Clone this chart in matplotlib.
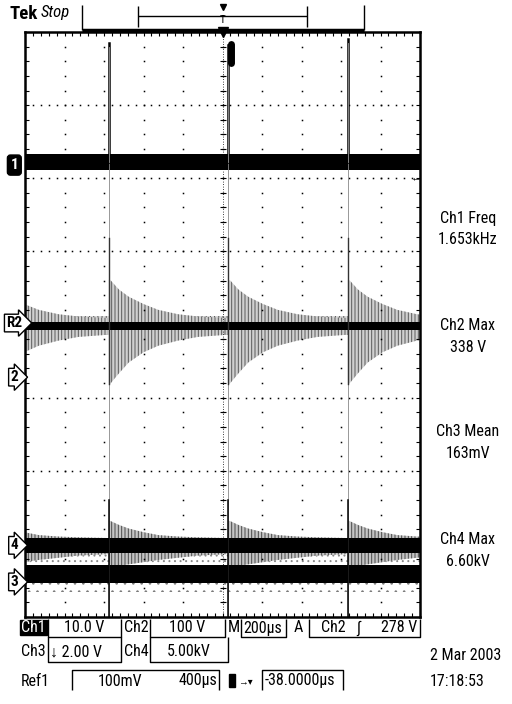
import numpy as np
import matplotlib.pyplot as plt

plt.rcParams['font.family'] = ['Roboto Condensed', 'Liberation Sans Narrow', 'Liberation Sans', 'DejaVu Sans']
plt.rcParams['hatch.linewidth'] = 0.7

# --- screen data: 10 div x 200us horizontally, 8 div vertically ---
time_span_us = 2000
pulse_us = [425, 1030, 1635]
prev_pulse_us = -180          # pulse just before the screen, its ringing tail shows at left
trig_pos_us = 1000
trig_level_div = 6.02

ch1_level = 6.22
ch1_half = 0.11
ch1_spike_top = [7.85, 7.82, 7.9]

ch2_level = 3.98
ch2_core = 0.06
ch2_noise = 0.13
ring_t_us = [0, 10, 50, 100, 175, 250, 350, 450, 600]
ch2_ring_hi = [0.63, 0.62, 0.5, 0.4, 0.3, 0.22, 0.16, 0.13, 0.11]
ch2_ring_lo = [0.81, 0.78, 0.65, 0.5, 0.36, 0.27, 0.2, 0.15, 0.12]

ch4_level = 0.98
ch4_half = 0.1
ch4_ring_hi = [0.34, 0.33, 0.28, 0.23, 0.18, 0.14, 0.12, 0.11, 0.1]
ch4_ring_lo = [0.3, 0.3, 0.28, 0.26, 0.23, 0.2, 0.17, 0.14, 0.12]

ch3_level = 0.59
ch3_half = 0.12
ch3_speckle_low = 0.34

marker_labels = ['1', 'R2', '2', '4', '3']
marker_levels = [6.18, 4.02, 3.28, 0.98, 0.48]

meas_names = ['Ch1 Freq', 'Ch2 Max', 'Ch3 Mean', 'Ch4 Max']
meas_values = ['1.653kHz', '338 V', '163mV', '6.60kV']

fig = plt.figure(figsize=(5.12, 7.04), dpi=100)
ax = fig.add_axes([25/512, 1 - 617/704, 395/512, 585/704])
ax.set_xlim(0, time_span_us)
ax.set_ylim(0, 8)
for s in ax.spines.values():
    s.set_linewidth(1.8)
ax.set_xticks(np.arange(0, time_span_us + 1, 200))
ax.set_xticks(np.arange(0, time_span_us + 1, 40), minor=True)
ax.set_yticks(np.arange(0, 9, 1))
ax.set_yticks(np.arange(0, 8.01, 0.2), minor=True)
ax.tick_params(which='both', direction='in', top=True, right=True,
               labelbottom=False, labelleft=False, length=3, width=0.8)

# graticule dots
ydots = np.arange(0.2, 8, 0.2)
xdots = np.arange(40, time_span_us, 40)
for gx in range(200, time_span_us, 200):
    ax.plot(np.full(len(ydots), gx), ydots, ls='none', marker='s', ms=1.1, color='black', mew=0)
for gy in range(1, 8):
    ax.plot(xdots, np.full(len(xdots), gy), ls='none', marker='s', ms=1.1, color='black', mew=0)
ax.axvline(trig_pos_us, ls=(0, (1, 2)), lw=0.6, color='black')
ax.plot(np.full(len(ydots), trig_pos_us), ydots, ls='none', marker='_', ms=5, color='black', mew=0.8)
ax.plot(xdots, np.full(len(xdots), 4), ls='none', marker='|', ms=5, color='black', mew=0.8)

# pulse lines running through all traces
for p, top in zip(pulse_us, ch1_spike_top):
    ax.plot([p, p], [0, ch1_level], color='#888888', lw=0.6)
    ax.plot([p, p], [ch1_level, top], color='black', lw=1.8)
    ax.plot([p, p], [ch1_level, top - 0.05], color='#9a9a9a', lw=0.6)
    ax.plot([p, p], [0.0, 1.6], color='black', lw=1.1)
    ax.plot([p, p], [ch2_level - 0.8, ch2_level + 1.2], color='#333333', lw=1.0)
ax.plot([1042, 1042], [7.58, 7.83], color='black', lw=5, solid_capstyle='round')

# Ch1
ax.fill_between([0, time_span_us], ch1_level - ch1_half, ch1_level + ch1_half, color='black', lw=0)

# Ch2
ax.fill_between([0, time_span_us], ch2_level - ch2_noise, ch2_level + ch2_noise,
                facecolor='#d8d8d8', edgecolor='#555555', hatch='||||', lw=0)
for p in [prev_pulse_us] + pulse_us:
    t = p + np.array(ring_t_us)
    ax.fill_between(t, ch2_level - np.array(ch2_ring_lo), ch2_level + np.array(ch2_ring_hi),
                    facecolor='#d0d0d0', edgecolor='#5a5a5a', hatch='|||||', lw=0)
ax.fill_between([0, time_span_us], ch2_level - ch2_core, ch2_level + ch2_core, color='black', lw=0)

# Ch3 / Ch4
ax.fill_between([0, time_span_us], ch3_level + ch3_half, ch4_level - ch4_half,
                facecolor='white', edgecolor='#8a8a8a', hatch='...', lw=0)
ax.fill_between([0, time_span_us], ch3_speckle_low, ch3_level - ch3_half,
                facecolor='white', edgecolor='#7a7a7a', hatch='..', lw=0)
for p in [prev_pulse_us] + pulse_us:
    t = p + np.array(ring_t_us)
    ax.fill_between(t, ch4_level - np.array(ch4_ring_lo), ch4_level + np.array(ch4_ring_hi),
                    facecolor='#c4c4c4', edgecolor='#4a4a4a', hatch='|||||', lw=0)
ax.fill_between([0, time_span_us], ch4_level - ch4_half, ch4_level + ch4_half, color='black', lw=0)
ax.fill_between([0, time_span_us], ch3_level - ch3_half, ch3_level + ch3_half, color='black', lw=0)

# channel markers on the left edge
for lab, lev in zip(marker_labels, marker_levels):
    sel = lab == '1'
    ax.text(-0.027, lev, lab, transform=ax.get_yaxis_transform(), ha='center', va='center',
            fontsize=11, fontweight='bold', color='white' if sel else 'black', clip_on=False,
            bbox=dict(boxstyle=('round,pad=0.2' if sel else 'rarrow,pad=0.12'),
                      fc='black' if sel else 'white', ec='black', lw=1.0))
ax.text(0.99, trig_level_div, '\u2190', transform=ax.get_yaxis_transform(), ha='center',
        va='center', fontsize=8, color='black', clip_on=False)
ax.plot([trig_pos_us], [8], marker='v', ms=7, color='black', clip_on=False)

# --- page overlay in pixel coordinates for header and readouts ---
page = fig.add_axes([0, 0, 1, 1])
page.set_xlim(0, 512)
page.set_ylim(704, 0)
page.axis('off')
page.patch.set_visible(False)

def pline(xs, ys, lw=1.0):
    page.plot(xs, ys, color='black', lw=lw, solid_capstyle='butt')

fs = 11.5
page.text(9, 14, 'Tek', fontsize=13.5, fontweight='bold', va='center', ha='left')
page.text(41, 13, 'Stop', fontsize=12, style='italic', va='center', ha='left')
pline([82, 82], [5, 30])
pline([364, 364], [5, 30])
pline([82, 364], [30, 30], lw=2.5)
pline([138, 138], [6, 27])
pline([307, 307], [6, 27])
pline([138, 307], [16, 16])
page.plot([223], [7], marker='v', ms=5, color='black')
page.text(223, 20, 'T', fontsize=8, ha='center', va='center')

for i, (nm, val) in enumerate(zip(meas_names, meas_values)):
    y0 = [218, 326, 432, 539][i]
    page.text(468, y0, nm, fontsize=fs, ha='center', va='center')
    page.text(468, y0 + 22, val, fontsize=fs, ha='center', va='center')

# status row 1
page.add_patch(plt.Rectangle((20, 620), 27, 15, color='black'))
page.text(33, 628, 'Ch1', fontsize=fs, color='white', ha='center', va='center')
for x0, x1 in [(48, 121), (150, 225), (241, 286), (309, 420)]:
    pline([x0, x0, x1, x1], [619, 637, 637, 619])
page.text(84, 628, '10.0 V', fontsize=fs, ha='center', va='center')
page.text(136, 628, 'Ch2', fontsize=fs, ha='center', va='center')
page.text(187, 628, '100 V', fontsize=fs, ha='center', va='center')
page.text(234, 628, 'M', fontsize=fs, ha='center', va='center')
page.text(263, 628, '200\u00b5s', fontsize=fs, ha='center', va='center')
page.text(298, 628, 'A', fontsize=fs, ha='center', va='center')
page.text(321, 628, 'Ch2', fontsize=fs, ha='left', va='center')
page.text(358, 628, '\u222b', fontsize=fs, ha='center', va='center')
page.text(417, 628, '278 V', fontsize=fs, ha='right', va='center')

# status row 2
for x0, x1 in [(48, 121), (150, 228)]:
    pline([x0, x0, x1, x1], [637, 662, 662, 637])
page.text(33, 652, 'Ch3', fontsize=fs, ha='center', va='center')
page.text(50, 652, '\u2193 2.00 V', fontsize=fs, ha='left', va='center')
page.text(136, 652, 'Ch4', fontsize=fs, ha='center', va='center')
page.text(189, 652, '5.00kV', fontsize=fs, ha='center', va='center')
page.text(466, 655, '2 Mar 2003', fontsize=fs, ha='center', va='center')

# status row 3
for x0, x1 in [(72, 219), (262, 343)]:
    pline([x0, x0, x1, x1], [690, 670, 670, 690])
page.text(21, 681, 'Ref1', fontsize=fs, ha='left', va='center')
page.text(98, 681, '100mV', fontsize=fs, ha='left', va='center')
page.text(217, 681, '400\u00b5s', fontsize=fs, ha='right', va='center')
page.add_patch(plt.Rectangle((229, 674), 6, 13, color='black'))
page.text(245, 681, '\u2192\u25be', fontsize=7, ha='center', va='center')
page.text(265, 681, '-38.0000\u00b5s', fontsize=fs, ha='left', va='center')
page.text(430, 681, '17:18:53', fontsize=fs, ha='left', va='center')

fig.savefig('out.png', dpi=100)
